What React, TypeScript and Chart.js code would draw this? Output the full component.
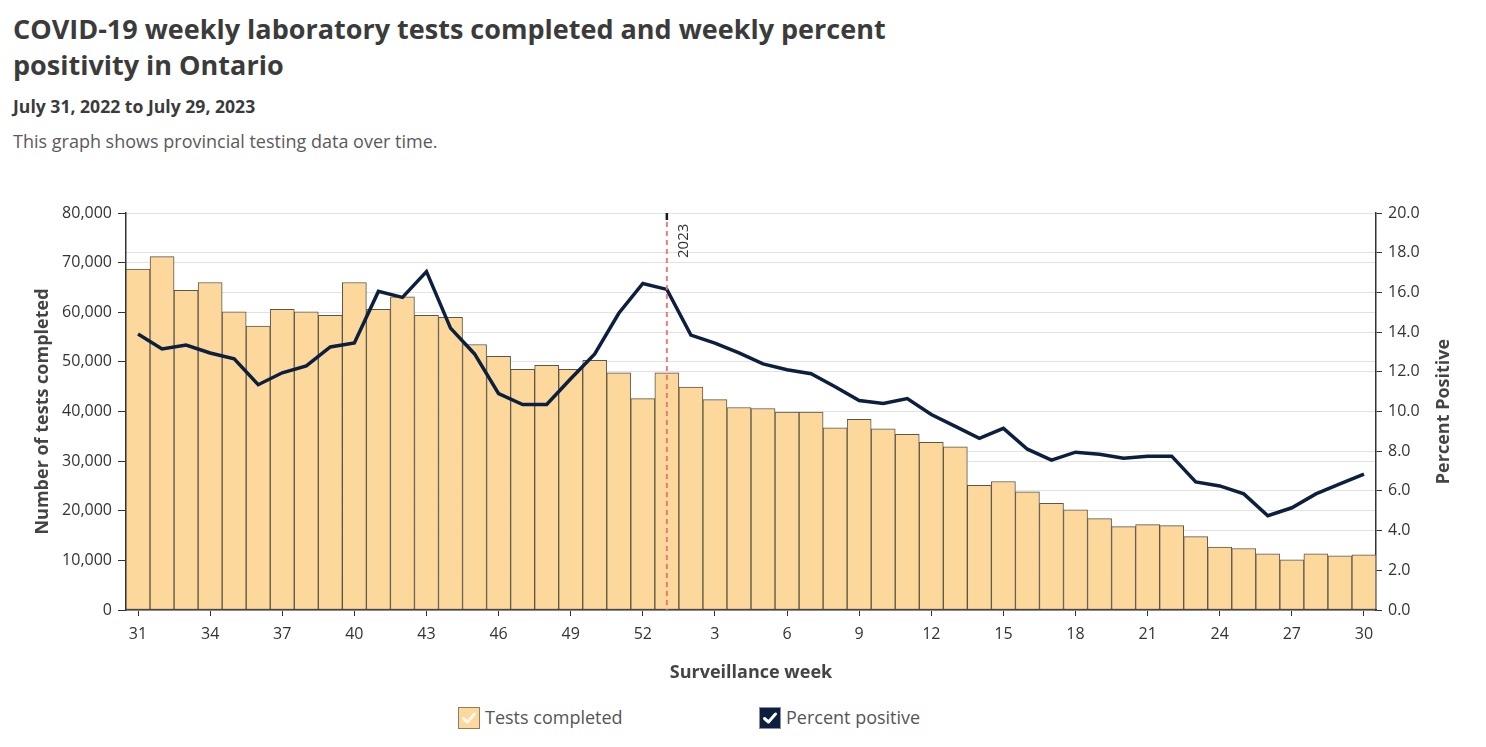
import React, { useEffect, useRef } from "react";
import { Chart, registerables } from "chart.js";

Chart.register(...registerables);

const weeks: string[] = [
  "31", "32", "33", "34", "35", "36", "37", "38", "39", "40", "41", "42", "43", "44", "45", "46", "47", "48", "49", "50", "51", "52",
  "1", "2", "3", "4", "5", "6", "7", "8", "9", "10", "11", "12", "13", "14", "15", "16", "17", "18", "19", "20",
  "21", "22", "23", "24", "25", "26", "27", "28", "29", "30",
];

const testsCompleted: number[] = [
  68700, 71200, 64400, 66000, 60100, 57200, 60600, 60100, 59400, 66000, 60600, 63100, 59400, 59000, 53500, 51100,
  48500, 49300, 48500, 50300, 47800, 42600,
  47800, 44900, 42400, 40800, 40600, 39900, 39900, 36700, 38400, 36500, 35400, 33800, 32900, 25100, 25900, 23800,
  21500, 20200, 18400, 16800, 17200, 17000, 14800, 12700, 12400, 11300, 10100, 11300, 10900, 11100,
];

const percentPositive: number[] = [
  13.9, 13.15, 13.35, 12.95, 12.65, 11.35, 11.95, 12.3, 13.25, 13.45, 16.05, 15.75, 17.05, 14.2, 12.9, 10.9,
  10.35, 10.35, 11.65, 12.9, 14.95, 16.45,
  16.15, 13.85, 13.45, 12.95, 12.4, 12.1, 11.9, 11.25, 10.55, 10.4, 10.65, 9.85, 9.25, 8.65, 9.15, 8.1,
  7.55, 7.95, 7.85, 7.65, 7.75, 7.75, 6.45, 6.25, 5.85, 4.75, 5.15, 5.85, 6.35, 6.85,
];

const markerWeek = "1";
const markerLabel = "2023";
const leftTitle = "Number of tests completed";
const rightTitle = "Percent Positive";
const xTitle = "Surveillance week";

const FONT = "'Open Sans', sans-serif";
const BAR_FILL = "#fcd89c";
const BAR_BORDER = "#5d5648";
const LINE_COLOR = "#0c1f3f";
const GRID = "#e2e2e2";
const AXIS = "#333333";

const overlayPlugin = {
  id: "overlayPlugin",
  afterDatasetsDraw(chart: any) {
    const { ctx, chartArea, scales } = chart;
    const idx = weeks.indexOf(markerWeek);
    const x = scales.x.getPixelForValue(idx);
    ctx.save();
    ctx.strokeStyle = "rgba(236,110,110,0.9)";
    ctx.lineWidth = 2;
    ctx.setLineDash([5, 4]);
    ctx.beginPath();
    ctx.moveTo(x, chartArea.top);
    ctx.lineTo(x, chartArea.bottom);
    ctx.stroke();
    ctx.setLineDash([]);
    ctx.strokeStyle = "#1a1a1a";
    ctx.lineWidth = 2.5;
    ctx.beginPath();
    ctx.moveTo(x, chartArea.top);
    ctx.lineTo(x, chartArea.top + 7);
    ctx.stroke();
    ctx.translate(x + 21, chartArea.top + 45);
    ctx.rotate(-Math.PI / 2);
    ctx.fillStyle = "#333";
    ctx.font = `15px ${FONT}`;
    ctx.textAlign = "left";
    ctx.textBaseline = "alphabetic";
    ctx.fillText(markerLabel, 0, 0);
    ctx.restore();
  },
  afterDraw(chart: any) {
    const { ctx, chartArea, scales } = chart;
    const r = scales.y1;
    ctx.save();
    ctx.translate(r.right - 42, (chartArea.top + chartArea.bottom) / 2);
    ctx.rotate(-Math.PI / 2);
    ctx.fillStyle = "#444";
    ctx.font = `bold 18px ${FONT}`;
    ctx.textAlign = "center";
    ctx.textBaseline = "middle";
    ctx.fillText(rightTitle, 0, 0);
    ctx.restore();
  },
};

function Check({ color }: { color: string }) {
  return (
    <svg width="16" height="16" viewBox="0 0 16 16" style={{ display: "block" }}>
      <polyline points="2.5,8.5 6.5,12 13.5,4" fill="none" stroke={color} strokeWidth="3" strokeLinecap="round" strokeLinejoin="round" />
    </svg>
  );
}

export default function App() {
  const canvasRef = useRef<HTMLCanvasElement | null>(null);

  useEffect(() => {
    if (!canvasRef.current) return;
    const chart = new Chart(canvasRef.current, {
      data: {
        labels: weeks,
        datasets: [
          {
            type: "line",
            label: "Percent positive",
            data: percentPositive,
            yAxisID: "y1",
            borderColor: LINE_COLOR,
            backgroundColor: LINE_COLOR,
            borderWidth: 3.5,
            pointRadius: 0,
            tension: 0,
            order: 0,
          } as any,
          {
            type: "bar",
            label: "Tests completed",
            data: testsCompleted,
            yAxisID: "y",
            backgroundColor: BAR_FILL,
            borderColor: BAR_BORDER,
            borderWidth: 1,
            borderSkipped: false,
            barPercentage: 1,
            categoryPercentage: 1,
            order: 1,
          } as any,
        ],
      },
      options: {
        animation: false,
        responsive: true,
        maintainAspectRatio: false,
        layout: { padding: { top: 23, left: 0, right: 0, bottom: 0 } },
        plugins: {
          legend: { display: false },
          tooltip: { enabled: false },
        },
        scales: {
          x: {
            type: "category",
            offset: true,
            grid: {
              display: true,
              drawOnChartArea: false,
              offset: false,
              tickLength: 6,
              tickWidth: 1,
              tickColor: (c: any) => (c.index % 3 === 0 ? AXIS : "rgba(0,0,0,0)"),
            },
            border: { display: true, color: AXIS, width: 1.5 },
            ticks: {
              autoSkip: false,
              maxRotation: 0,
              minRotation: 0,
              padding: 9,
              color: AXIS,
              font: { family: FONT, size: 16 },
              callback: (_v: any, i: number) => (i % 3 === 0 ? weeks[i] : ""),
            },
            title: {
              display: true,
              text: xTitle,
              color: "#444",
              font: { family: FONT, size: 18, weight: "bold" },
              padding: { top: 0, bottom: 6.5 },
            },
            afterFit: (s: any) => {
              s.height = 80;
            },
          },
          y: {
            type: "linear",
            position: "left",
            min: 0,
            max: 80000,
            grid: { color: GRID, lineWidth: 1, tickLength: 8, tickColor: AXIS },
            border: { display: true, color: AXIS, width: 1.5 },
            ticks: {
              stepSize: 10000,
              padding: 6,
              color: AXIS,
              font: { family: FONT, size: 16 },
              callback: (v: any) => Number(v).toLocaleString("en-US"),
            },
            title: {
              display: true,
              text: leftTitle,
              color: "#444",
              font: { family: FONT, size: 18, weight: "bold" },
              padding: { top: 32.5, bottom: 0 },
            },
            afterFit: (s: any) => {
              s.width = 126;
            },
          },
          y1: {
            type: "linear",
            position: "right",
            min: 0,
            max: 20,
            grid: { color: GRID, lineWidth: 1, tickLength: 6, tickColor: AXIS },
            border: { display: true, color: AXIS, width: 1.5 },
            ticks: {
              stepSize: 2,
              padding: 6,
              color: AXIS,
              font: { family: FONT, size: 16 },
              callback: (v: any) => Number(v).toFixed(1),
            },
            afterFit: (s: any) => {
              s.width = 110;
            },
          },
        },
      } as any,
      plugins: [overlayPlugin],
    });
    return () => chart.destroy();
  }, []);

  return (
    <div style={{ position: "fixed", left: 0, top: 0, width: 1486, height: 747, background: "#fff", fontFamily: FONT, overflow: "hidden" }}>
      <div style={{ position: "absolute", left: 13, top: 11, fontSize: 27, fontWeight: 700, lineHeight: "36px", color: "#3b3b3b", whiteSpace: "nowrap" }}>
        COVID-19 weekly laboratory tests completed and weekly percent
        <br />
        positivity in Ontario
      </div>
      <div style={{ position: "absolute", left: 13, top: 94, fontSize: 17.6, fontWeight: 700, lineHeight: "24px", color: "#3b3b3b", whiteSpace: "nowrap" }}>
        July 31, 2022 to July 29, 2023
      </div>
      <div style={{ position: "absolute", left: 13, top: 129, fontSize: 18, lineHeight: "24px", color: "#5a5a5a", whiteSpace: "nowrap" }}>
        This graph shows provincial testing data over time.
      </div>
      <div style={{ position: "absolute", left: 0, top: 190, width: 1486, height: 500 }}>
        <canvas ref={canvasRef} />
      </div>
      <div style={{ position: "absolute", left: 458, top: 706, display: "flex", alignItems: "center", height: 23 }}>
        <div style={{ width: 20, height: 20, background: BAR_FILL, border: "1.5px solid #8c7e62", display: "flex", alignItems: "center", justifyContent: "center" }}>
          <Check color="rgba(255,255,255,0.85)" />
        </div>
        <span style={{ marginLeft: 5, fontSize: 18, color: "#555", lineHeight: "23px" }}>Tests completed</span>
      </div>
      <div style={{ position: "absolute", left: 759, top: 706, display: "flex", alignItems: "center", height: 23 }}>
        <div style={{ width: 20, height: 20, background: LINE_COLOR, border: "1.5px solid #8a8f99", display: "flex", alignItems: "center", justifyContent: "center" }}>
          <Check color="#ffffff" />
        </div>
        <span style={{ marginLeft: 5, fontSize: 18, color: "#555", lineHeight: "23px" }}>Percent positive</span>
      </div>
    </div>
  );
}
